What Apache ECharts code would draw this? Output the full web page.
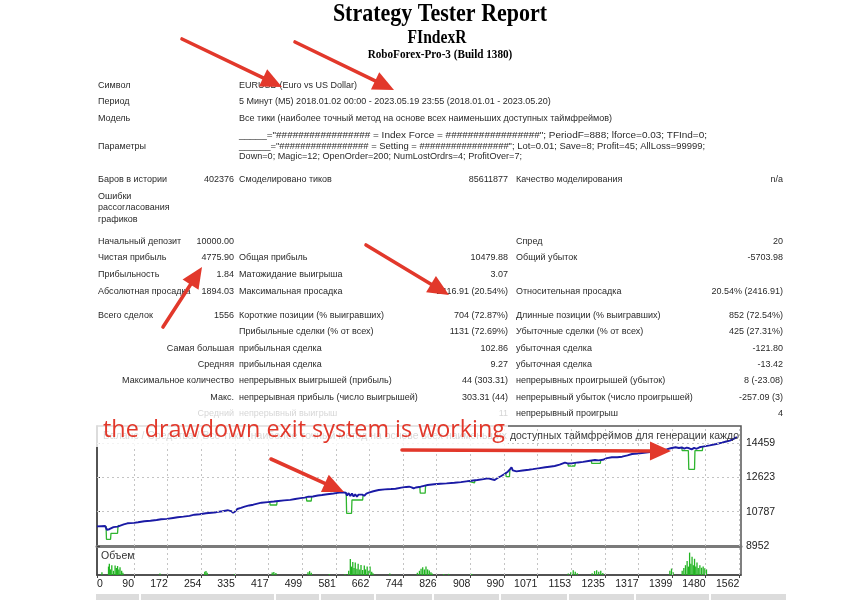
<!DOCTYPE html>
<html><head><meta charset="utf-8">
<script src="https://cdn.jsdelivr.net/npm/echarts@6/dist/echarts.min.js"></script>
<style>html,body{margin:0;padding:0;background:#fff}#c{width:858px;height:600px}</style>
</head><body><div id="c"></div>
<script>
// ---------------- data ----------------
const titleLines = ['Strategy Tester Report', 'FIndexR', 'RoboForex-Pro-3 (Build 1380)'];

const infoRows = [
  ['Символ', 'EURUSD (Euro vs US Dollar)'],
  ['Период', '5 Минут (M5) 2018.01.02 00:00 - 2023.05.19 23:55 (2018.01.01 - 2023.05.20)'],
  ['Модель', 'Все тики (наиболее точный метод на основе всех наименьших доступных таймфреймов)']
];
const paramLabel = 'Параметры';
const paramLines = [
  '_____="################# = Index Force = #################"; PeriodF=888; lforce=0.03; TFInd=0;',
  '______="################# = Setting = #################"; Lot=0.01; Save=8; Profit=45; AllLoss=99999;',
  'Down=0; Magic=12; OpenOrder=200; NumLostOrdrs=4; ProfitOver=7;'
];
const errLabel = ['Ошибки', 'рассогласования', 'графиков'];
const statRows = [
  ['Баров в истории', '402376', 'Смоделировано тиков', '85611877', 'Качество моделирования', 'n/a'],
  ['Начальный депозит', '10000.00', '', '', 'Спред', '20'],
  ['Чистая прибыль', '4775.90', 'Общая прибыль', '10479.88', 'Общий убыток', '-5703.98'],
  ['Прибыльность', '1.84', 'Матожидание выигрыша', '3.07', '', ''],
  ['Абсолютная просадка', '1894.03', 'Максимальная просадка', '2416.91 (20.54%)', 'Относительная просадка', '20.54% (2416.91)'],
  ['Всего сделок', '1556', 'Короткие позиции (% выигравших)', '704 (72.87%)', 'Длинные позиции (% выигравших)', '852 (72.54%)'],
  ['', '', 'Прибыльные сделки (% от всех)', '1131 (72.69%)', 'Убыточные сделки (% от всех)', '425 (27.31%)'],
  ['Самая большая', '', 'прибыльная сделка', '102.86', 'убыточная сделка', '-121.80'],
  ['Средняя', '', 'прибыльная сделка', '9.27', 'убыточная сделка', '-13.42'],
  ['Максимальное количество', '', 'непрерывных выигрышей (прибыль)', '44 (303.31)', 'непрерывных проигрышей (убыток)', '8 (-23.08)'],
  ['Макс.', '', 'непрерывная прибыль (число выигрышей)', '303.31 (44)', 'непрерывный убыток (число проигрышей)', '-257.09 (3)'],
  ['Средний', '', 'непрерывный выигрыш', '11', 'непрерывный проигрыш', '4']
];
const chartHeader = 'Баланс / Средства / Все тики (наиболее точный метод на основе всех наименьших доступных таймфреймов для генерации каждо';
const volumeLabel = 'Объем';
const annotation = 'the drawdown exit system is working';

const xTickLabels = [0, 90, 172, 254, 335, 417, 499, 581, 662, 744, 826, 908, 990, 1071, 1153, 1235, 1317, 1399, 1480, 1562];
const yTickLabels = [8952, 10787, 12623, 14459];

const balance = [
  [0,10000],[10,10010],[20,10020],[24,9820],[27,9900],[30,9850],[33,9950],[40,9960],[50,9990],[53,10075],
  [65,10110],[74,10166],[90,10190],[100,10220],[115,10273],[130,10300],[145,10340],[156,10380],[170,10400],
  [185,10450],[196,10487],[210,10520],[225,10560],[237,10626],[250,10650],[265,10700],[278,10733],[290,10760],
  [305,10810],[319,10861],[326,10820],[331,10733],[336,10800],[341,10930],[350,10990],[359,11054],[370,11120],
  [380,11160],[390,11220],[400,11268],[415,11300],[430,11330],[441,11358],[455,11390],[470,11420],[482,11465],
  [495,11510],[505,11540],[514,11588],[525,11600],[537,11650],[547,11679],[560,11720],[575,11760],[585,11790],
  [596,11823],[605,11800],[608,11650],[612,11780],[616,11620],[620,11760],[624,11600],[628,11720],[632,11590],
  [636,11700],[640,11620],[645,11700],[650,11640],[655,11750],[661,11802],[672,11880],[685,11946],[700,11980],
  [715,12000],[726,12016],[740,12070],[752,12110],[759,12123],[765,12090],[770,12030],[775,12080],[787,12123],
  [795,12170],[804,12214],[820,12250],[835,12280],[850,12300],[869,12337],[885,12370],[898,12410],[910,12444],
  [925,12480],[940,12530],[951,12572],[960,12520],[967,12483],[975,12600],[983,12695],[991,12800],[999,12925],
  [1004,13050],[1008,13160],[1011,13000],[1014,12930],[1020,12940],[1035,12990],[1050,13030],[1060,13060],
  [1073,13105],[1090,13160],[1100,13190],[1113,13230],[1125,13300],[1138,13406],[1146,13360],[1154,13370],
  [1170,13420],[1182,13450],[1195,13497],[1211,13550],[1220,13530],[1230,13560],[1240,13650],[1252,13695],
  [1265,13700],[1277,13727],[1290,13800],[1301,13871],[1315,13900],[1330,13940],[1345,13970],[1358,13995],
  [1370,14040],[1385,14120],[1395,14180],[1407,14230],[1415,14190],[1422,14220],[1428,14160],[1434,14210],
  [1440,14176],[1446,14120],[1452,14200],[1458,14150],[1465,14230],[1473,14262],[1490,14330],[1506,14406],
  [1520,14480],[1530,14540],[1539,14583],[1548,14680],[1556,14776]
];
// equity, drawn only where it leaves the balance line ('-' breaks the line)
const equity = [
  [22,10020],[23,9310],[33,9310],[34,9630],[50,9630],[51,9990],[53,10075],[54,'-'],
  [420,11330],[421,11144],[437,11144],[438,11355],[439,'-'],
  [509,11570],[510,11358],[521,11358],[522,11590],[523,'-'],
  [606,11800],[607,10700],[619,10700],[620,11412],[646,11412],[647,11680],[648,'-'],
  [785,12110],[786,11780],[798,11780],[799,12180],[800,'-'],
  [901,12420],[902,12330],[918,12330],[919,12450],[920,'-'],
  [994,12880],[995,12660],[1003,12660],[1004,13050],[1005,'-'],
  [1145,13380],[1146,13230],[1162,13230],[1163,13390],[1164,'-'],
  [1202,13520],[1203,13374],[1224,13374],[1225,13550],[1226,'-'],
  [1422,14220],[1423,14050],[1438,14050],[1439,13053],[1453,13053],[1454,14050],[1472,14050],[1473,14262]
];
const volume = [
  [12,1],[28,3],[30,4],[33,2],[36,3.5],[40,1.5],[44,3.4],[47,2.5],[50,3.2],[53,2],[56,2.8],[60,1.5],[63,0.8],
  [153,0.5],[262,1.2],[265,1.4],[268,0.8],[335,0.4],[426,0.9],[430,1.1],[435,0.7],[513,1],[517,1.4],[521,0.8],
  [565,0.4],[603,0.4],
  [612,1.5],[616,5.7],[619,3],[622,4.6],[625,2.5],[628,4.5],[632,2.2],[635,4],[639,2],[642,3.6],[646,1.8],
  [650,3.4],[653,2],[657,3],[661,1.5],[664,3],[668,1.2],[671,0.6],
  [712,0.5],[779,0.8],[784,1.5],[788,2.2],[792,2.8],[796,2],[800,3],[804,2],[808,1.6],[812,1],[815,0.5],
  [843,0.4],[855,0.4],[911,0.4],
  [1146,0.5],[1152,1],[1158,1.7],[1163,1.2],[1168,0.6],
  [1204,0.6],[1210,1.4],[1215,1.7],[1220,1.2],[1225,1.5],[1230,0.7],
  [1393,1.5],[1397,2.3],[1401,1],
  [1423,1.5],[1427,2.5],[1431,3.5],[1435,5],[1438,3],[1441,8],[1444,4],[1447,6.5],[1450,3.5],[1453,5.8],
  [1456,3],[1459,4.5],[1462,2.5],[1466,3.5],[1470,2.6],[1474,3],[1478,2.4],[1482,2]
];

// ---------------- drawing ----------------
const RED = '#e2382b';
const TXT = '#2a2a2a';
const TFONT = 'Liberation Sans, Arial, sans-serif';
const mctx = document.createElement('canvas').getContext('2d');
function fit(text, font, target) { mctx.font = font; return target / mctx.measureText(text).width; }
const g = [];
function txt(x, y, text, o) {
  o = o || {};
  g.push({
    type: 'text', x: x, y: y, z: o.z || 5, scaleX: o.sx || 1, silent: true,
    style: {
      text: text, fill: o.fill || TXT, align: o.align || 'left', verticalAlign: 'middle',
      font: o.font || ('9px ' + TFONT)
    }
  });
}
function arrow(x1, y1, x2, y2) {
  const dx = x2 - x1, dy = y2 - y1, L = Math.hypot(dx, dy), ux = dx / L, uy = dy / L;
  const hl = 21, hw = 9.5;
  const bx = x2 - ux * hl, by = y2 - uy * hl;
  g.push({ type: 'line', z: 120, silent: true, shape: { x1: x1, y1: y1, x2: bx + ux * 3, y2: by + uy * 3 },
    style: { stroke: RED, lineWidth: 3.6, lineCap: 'round' } });
  g.push({ type: 'polygon', z: 120, silent: true,
    shape: { points: [[x2, y2], [bx - uy * hw, by + ux * hw], [bx + uy * hw, by - ux * hw]] },
    style: { fill: RED } });
}

// title
const serif = 'Liberation Serif, Times New Roman, serif';
txt(440, 15, titleLines[0], { align: 'center', font: 'bold 25px ' + serif, sx: 0.88, fill: '#000' });
txt(437, 38, titleLines[1], { align: 'center', font: 'bold 19px ' + serif, sx: 0.82, fill: '#000' });
txt(440, 55, titleLines[2], { align: 'center', font: 'bold 12px ' + serif, sx: 0.93, fill: '#000' });

// info table
const C1 = 98, C1R = 234, C2 = 239, C2R = 508, C3 = 516, C3R = 783;
const infoY = [86, 102, 119];
infoRows.forEach((r, i) => { txt(C1, infoY[i], r[0]); txt(C2, infoY[i], r[1]); });
txt(C1, 147, paramLabel);
const paramY = [136, 147, 157];
const paramW = [468, 466, 283];
paramLines.forEach((l, i) => txt(C2, paramY[i], l, { sx: fit(l, '9px ' + TFONT, paramW[i]) }));
const errY = [197, 208, 220];
errLabel.forEach((l, i) => txt(C1, errY[i], l));
const statY = [180, 242, 258, 275, 292, 316, 332, 349, 365, 381, 398, 414];
statRows.forEach((r, i) => {
  const y = statY[i];
  if (r[0]) {
    if (r[1]) { txt(C1, y, r[0]); txt(C1R, y, r[1], { align: 'right' }); }
    else txt(C1R, y, r[0], { align: 'right' });
  }
  if (r[2]) txt(C2, y, r[2]);
  if (r[3]) txt(C2R, y, r[3], { align: 'right' });
  if (r[4]) txt(C3, y, r[4]);
  if (r[5]) txt(C3R, y, r[5], { align: 'right' });
});

// chart header + volume label
const hFont = '10.5px ' + TFONT;
txt(103, 436, chartHeader, { font: hFont, z: 10, fill: '#3a3a3a', sx: fit(chartHeader, hFont, 636) });
txt(101, 556, volumeLabel, { font: '10.5px ' + TFONT, z: 10, fill: '#333' });

// semi-transparent white box behind the red note
g.push({ type: 'rect', z: 100, silent: true, shape: { x: 95, y: 405, width: 413, height: 42 },
  style: { fill: 'rgba(255,255,255,0.8)' } });
const aFont = '23px Open Sans, sans-serif';
txt(103, 430, annotation, { font: aFont, fill: RED, z: 110, sx: fit(annotation, aFont, 402) });

// bottom grey strip (next table)
g.push({ type: 'rect', z: 1, silent: true, shape: { x: 96, y: 594, width: 690, height: 6 }, style: { fill: '#dcdcdc' } });
[140, 275, 320, 375, 433, 500, 568, 635, 710].forEach(x =>
  g.push({ type: 'line', z: 2, silent: true, shape: { x1: x, y1: 594, x2: x, y2: 600 }, style: { stroke: '#fff', lineWidth: 2 } }));

// arrows
arrow(182, 39, 282, 87);
arrow(295, 42, 394, 90);
arrow(366, 245, 449, 295);
arrow(163, 327, 202, 267);
arrow(271, 459, 344, 492);
arrow(402, 450, 671, 451);

const gridLine = { silent: true, symbol: ['none', 'none'], label: { show: false }, emphasis: { disabled: true },
  lineStyle: { color: '#c4c4c4', type: [2, 3], width: 1 }, animation: false };
const plain = v => String(v);

const option = {
  animation: false,
  backgroundColor: '#fff',
  grid: [
    { left: 97, top: 426, width: 644, height: 120, show: true, borderColor: '#555', borderWidth: 1.5 },
    { left: 97, top: 547, width: 644, height: 28, show: true, borderColor: '#555', borderWidth: 1.5 }
  ],
  xAxis: [
    { gridIndex: 0, type: 'value', min: 0, max: 1566,
      axisLine: { show: true, onZero: false, lineStyle: { color: '#7a7a7a', width: 3 } },
      axisTick: { show: false }, axisLabel: { show: false }, splitLine: { show: false } },
    { gridIndex: 1, type: 'value', min: 0, max: 1566,
      axisLine: { show: true, onZero: false, lineStyle: { color: '#444', width: 1.5 } },
      axisTick: { show: true, customValues: xTickLabels, length: 3, lineStyle: { color: '#444' } },
      axisLabel: { customValues: xTickLabels, formatter: plain, align: 'right', alignMinLabel: 'left', margin: 4,
        fontSize: 10.5, fontFamily: TFONT, color: '#222' },
      splitLine: { show: false } }
  ],
  yAxis: [
    { gridIndex: 0, type: 'value', position: 'right', min: 8952, max: 15368,
      axisLine: { show: true, lineStyle: { color: '#444', width: 1.5 } },
      axisTick: { show: true, customValues: yTickLabels, length: 3, lineStyle: { color: '#444' } },
      axisLabel: { customValues: yTickLabels, formatter: plain, margin: 5, fontSize: 10.5, fontFamily: TFONT, color: '#222' },
      splitLine: { show: false } },
    { gridIndex: 1, type: 'value', position: 'right', min: 0, max: 10,
      axisLine: { show: true, lineStyle: { color: '#444', width: 1.5 } },
      axisTick: { show: false }, axisLabel: { show: false }, splitLine: { show: false } }
  ],
  graphic: { elements: g },
  series: [
    { type: 'line', xAxisIndex: 0, yAxisIndex: 0, data: [], z: 1, silent: true,
      markLine: Object.assign({}, gridLine, {
        data: xTickLabels.filter(v => v > 0).map(v => ({ xAxis: v }))
          .concat(yTickLabels.filter(v => v > 8952).map(v => ({ yAxis: v }))) }) },
    { type: 'line', xAxisIndex: 1, yAxisIndex: 1, data: [], z: 1, silent: true,
      markLine: Object.assign({}, gridLine, { data: xTickLabels.filter(v => v > 0).map(v => ({ xAxis: v })) }) },
    { name: 'Equity', type: 'line', xAxisIndex: 0, yAxisIndex: 0, data: equity, showSymbol: false, z: 3,
      connectNulls: false, lineStyle: { color: '#2fb52f', width: 1.3 }, silent: true },
    { name: 'Balance', type: 'line', xAxisIndex: 0, yAxisIndex: 0, data: balance, showSymbol: false, z: 4,
      lineStyle: { color: '#1a1aa5', width: 1.9 }, silent: true },
    { name: 'Volume', type: 'bar', xAxisIndex: 1, yAxisIndex: 1, data: volume, barWidth: 1.3, z: 3,
      itemStyle: { color: '#22b422' }, silent: true }
  ]
};
const chart = echarts.init(document.getElementById('c'));
chart.setOption(option);
</script></body></html>
